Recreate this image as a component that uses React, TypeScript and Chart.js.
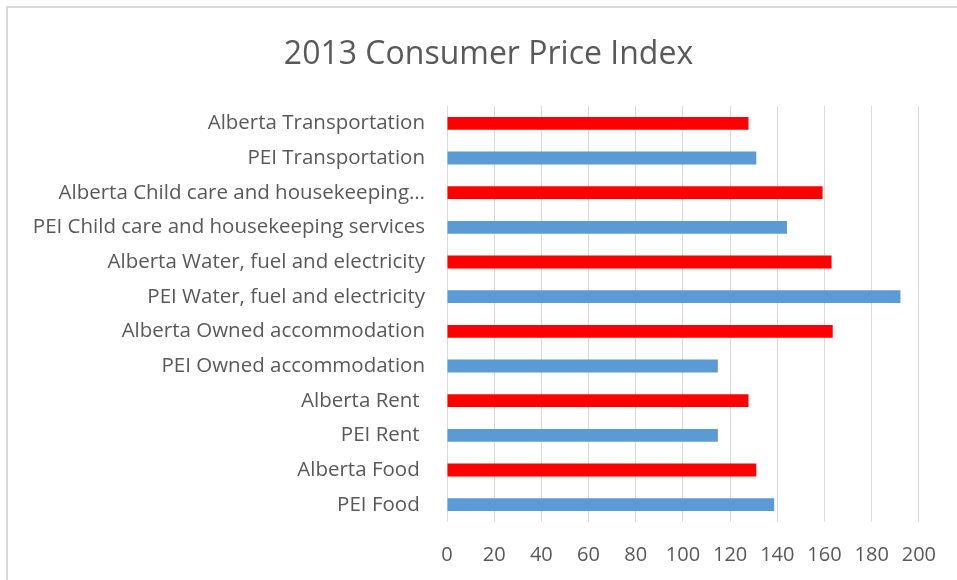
import React, { useEffect, useRef } from "react";
import { Chart, registerables } from "chart.js";

Chart.register(...registerables);

const categories: string[] = [
  "Alberta Transportation",
  "PEI Transportation",
  "Alberta Child care and housekeeping…",
  "PEI Child care and housekeeping services",
  "Alberta Water, fuel and electricity",
  "PEI Water, fuel and electricity",
  "Alberta Owned accommodation",
  "PEI Owned accommodation",
  "Alberta Rent ",
  "PEI Rent ",
  "Alberta Food ",
  "PEI Food ",
];

const values: number[] = [127.8, 131.1, 159.2, 144.1, 163.0, 192.2, 163.5, 114.8, 127.8, 114.8, 131.1, 138.7];

const titleText = "2013 Consumer Price Index";
const xMin = 0;
const xMax = 200;
const xStep = 20;

const ALBERTA_COLOR = "#FF0000";
const PEI_COLOR = "#5B9BD5";
const TEXT_COLOR = "#595959";
const GRID_COLOR = "#d9d9d9";

const FONT = "'Open Sans', 'DejaVu Sans', sans-serif";

const frame = {
  id: "frame",
  beforeDraw(chart: any) {
    const { ctx, width, height } = chart;
    ctx.save();
    ctx.fillStyle = "#ffffff";
    ctx.fillRect(0, 0, width, height);
    ctx.strokeStyle = "#d9d9d9";
    ctx.lineWidth = 2;
    ctx.beginPath();
    ctx.moveTo(7, height + 5);
    ctx.lineTo(7, 7);
    ctx.lineTo(width + 5, 7);
    ctx.stroke();
    ctx.restore();
  },
};

// Chart title, centred over the whole frame (as in the original), not over the padded layout box.
const frameTitle = {
  id: "frameTitle",
  afterDraw(chart: any) {
    const { ctx, width } = chart;
    ctx.save();
    ctx.fillStyle = TEXT_COLOR;
    ctx.font = `normal 32px ${FONT}`;
    ctx.textAlign = "center";
    ctx.textBaseline = "alphabetic";
    ctx.fillText(titleText, (width + 20) / 2, 64);
    ctx.restore();
  },
};

export default function App() {
  const ref = useRef<HTMLCanvasElement | null>(null);

  useEffect(() => {
    if (!ref.current) return;
    const colors = categories.map((c) => (c.startsWith("Alberta") ? ALBERTA_COLOR : PEI_COLOR));
    const chart = new Chart(ref.current, {
      type: "bar",
      data: {
        labels: categories,
        datasets: [
          {
            label: "CPI",
            data: values,
            backgroundColor: colors,
            borderWidth: 0,
            categoryPercentage: 1,
            barPercentage: 0.37,
          },
        ],
      },
      options: {
        indexAxis: "y",
        responsive: false,
        animation: false,
        layout: { padding: { left: 0, right: 36, top: 106, bottom: 0 } },
        plugins: {
          legend: { display: false },
          tooltip: { enabled: false },
          title: { display: false },
        },
        scales: {
          x: {
            min: xMin,
            max: xMax,
            ticks: {
              stepSize: xStep,
              color: TEXT_COLOR,
              font: { family: FONT, size: 20 },
              padding: 21,
            },
            grid: { color: GRID_COLOR, lineWidth: 1, drawTicks: false },
            border: { display: false },
            afterFit(scale: any) {
              scale.height = 58;
            },
          },
          y: {
            ticks: {
              color: TEXT_COLOR,
              font: { family: FONT, size: 20.5 },
              padding: 14,
              autoSkip: false,
            },
            grid: { display: false },
            border: { display: false },
            afterFit(scale: any) {
              scale.width = 447;
            },
          },
        },
      },
      plugins: [frame, frameTitle],
    });
    return () => chart.destroy();
  }, []);

  return (
    <div style={{ position: "fixed", left: 0, top: 0, width: 957, height: 580, background: "#fff" }}>
      <canvas ref={ref} width={957} height={580} style={{ display: "block" }} />
    </div>
  );
}
